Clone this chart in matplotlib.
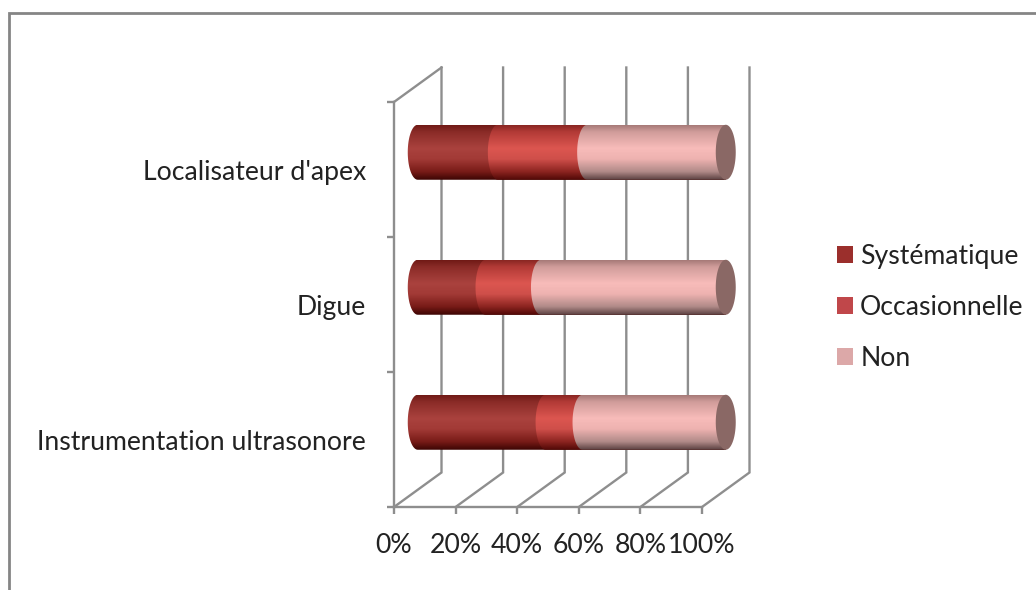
import numpy as np
import matplotlib
matplotlib.use("Agg")
import matplotlib.pyplot as plt
from matplotlib.colors import LinearSegmentedColormap
from matplotlib.lines import Line2D
from matplotlib.patches import Patch, PathPatch
from matplotlib.path import Path

categories = ["Instrumentation ultrasonore", "Digue", "Localisateur d'apex"]
series_names = ["Systématique", "Occasionnelle", "Non"]
systematique = [41.5, 22, 26]
occasionnelle = [12, 18, 29]
non = [46.5, 60, 45]
x_ticks = [0, 20, 40, 60, 80, 100]
x_labels = ["0%", "20%", "40%", "60%", "80%", "100%"]
legend_colors = ["#9b2f2c", "#c0474a", "#dca8a8"]
stops = [0.0, 0.12, 0.42, 0.62, 0.85, 1.0]
gradients = [
    ["#701a16", "#8a2b27", "#aa423e", "#a23a36", "#781b17", "#3c0503"],
    ["#8a2723", "#b23a36", "#dc5650", "#cf4f4a", "#8c2420", "#500806"],
    ["#a67a78", "#d09c9a", "#f8bcba", "#eeb2b0", "#b08a88", "#5a4040"],
]
cap_color = "#8a6865"

plt.rcParams["font.family"] = ["Lato", "DejaVu Sans"]
W, H = 1036, 590
fig = plt.figure(figsize=(W / 100, H / 100), dpi=100, facecolor="white")
left, right, top, bottom = 394, 702, 102, 507
ax = fig.add_axes([left / W, 1 - bottom / H, (right - left) / W, (bottom - top) / H])
ax.set_facecolor("none")

GRID = "#8e8e8e"
LW = 1.7
px_x = 100 / (right - left)
px_y = 3 / (bottom - top)
depth_x = 47.5 * px_x
depth_y = 34.5 * px_y
half_h = 27.5 * px_y
half_w = 10 * px_x

# walls and floor of the 3-D frame
for t in x_ticks:
    ax.plot([t, t + depth_x, t + depth_x], [0, depth_y, 3 + depth_y],
            color=GRID, lw=LW, clip_on=False, zorder=1, solid_joinstyle="miter")
ax.plot([0, depth_x], [3, 3 + depth_y], color=GRID, lw=LW, clip_on=False, zorder=1)


def cylinder(x0, x1, yc):
    th = np.linspace(np.pi / 2, 3 * np.pi / 2, 40)
    xs = x0 + half_w * np.cos(th)
    ys = yc + half_h * np.sin(th)
    verts = np.column_stack([np.r_[xs, x1, x1], np.r_[ys, yc - half_h, yc + half_h]])
    return Path(np.vstack([verts, verts[0]]), closed=True)


z = 3
for i in range(len(categories)):
    yc = i + 0.5 + depth_y / 2
    start = depth_x / 2
    for j, vals in enumerate([systematique, occasionnelle, non]):
        end = start + vals[i]
        cmap = LinearSegmentedColormap.from_list("c", list(zip(stops, gradients[j])))
        grad = np.linspace(0, 1, 128)[:, None]
        im = ax.imshow(grad, cmap=cmap, aspect="auto", origin="upper",
                       extent=(start - half_w - 1, depth_x / 2 + 101, yc - half_h, yc + half_h),
                       zorder=z)
        clip = PathPatch(cylinder(start, end if j == 2 else 100 + depth_x / 2, yc),
                         transform=ax.transData, fc="none", ec="none")
        im.set_clip_path(clip)
        im.set_clip_box(fig.bbox)
        z += 1
        start = end
    th = np.linspace(0, 2 * np.pi, 60)
    ax.fill(start + half_w * np.cos(th), yc + half_h * np.sin(th),
            color=cap_color, zorder=z, clip_on=False, lw=0)
    z += 1

ax.set_xlim(0, 100)
ax.set_ylim(0, 3)

for name in ["top", "right"]:
    ax.spines[name].set_visible(False)
for name in ["left", "bottom"]:
    ax.spines[name].set_color(GRID)
    ax.spines[name].set_linewidth(LW)
    ax.spines[name].set_zorder(1)

FS = 19.2
TXT = "#222222"
ax.set_xticks(x_ticks)
ax.set_xticklabels(x_labels, fontsize=FS, color=TXT)
ax.tick_params(axis="x", length=5, width=LW, color=GRID, pad=13.5)
ax.set_yticks([0, 1, 2, 3])
ax.set_yticklabels([])
ax.tick_params(axis="y", which="major", length=5, width=LW, color=GRID)
ax.set_yticks([0.5, 1.5, 2.5], minor=True)
ax.set_yticklabels(categories, minor=True, fontsize=FS, color=TXT)
ax.tick_params(axis="y", which="minor", length=0, pad=20)

handles = [Patch(facecolor=c, edgecolor="none") for c in legend_colors]
fig.legend(handles, series_names, loc="center left", bbox_to_anchor=(837 / W, 1 - 307.5 / H),
           frameon=False, fontsize=FS, labelcolor=TXT, handlelength=0.6, handleheight=0.6,
           handletextpad=0.27, labelspacing=0.98, borderpad=0, borderaxespad=0)

# outer frame: only top and left edges fall inside the picture
fig.add_artist(Line2D([9 / W, 9 / W, 1], [0, 1 - 12.5 / H, 1 - 12.5 / H],
                      transform=fig.transFigure, color="#858585", lw=2.0,
                      solid_joinstyle="miter"))

fig.savefig("out.png", dpi=100, facecolor="white")
